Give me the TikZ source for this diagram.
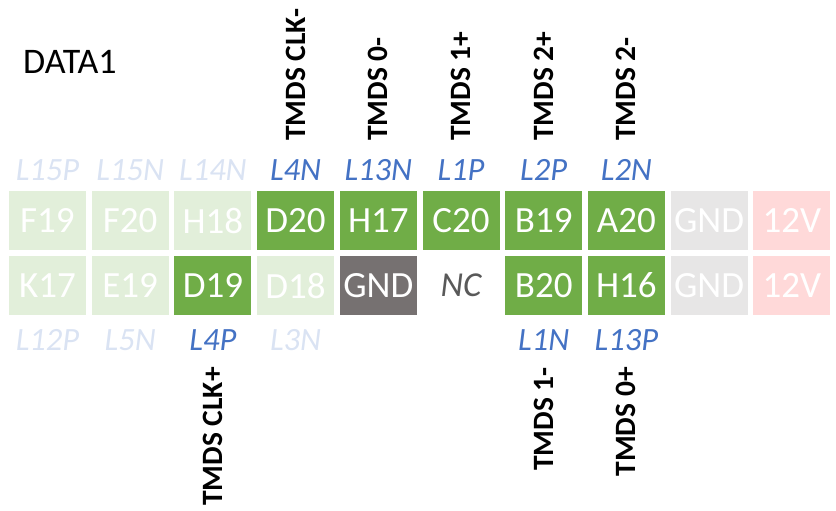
\documentclass[tikz,border=0pt]{standalone}
\usepackage{fontspec}
\setmainfont{Carlito}
\definecolor{pgreen}{HTML}{70AD47}
\definecolor{plight}{HTML}{E2EFDA}
\definecolor{pgray}{HTML}{E7E6E6}
\definecolor{pdark}{HTML}{767171}
\definecolor{ppink}{HTML}{FFD9D9}
\definecolor{lblue}{HTML}{4472C4}
\definecolor{lfade}{HTML}{DAE3F3}
\definecolor{nctext}{HTML}{595959}
\tikzset{
  pin/.style={minimum width=77pt, minimum height=59pt, inner sep=0pt, text=white, font=\fontsize{37}{37}\selectfont},
  lbl/.style={inner sep=0pt, font=\fontsize{32.5}{32.5}\selectfont\itshape},
  sig/.style={inner sep=0pt, rotate=90, font=\fontsize{29.5}{29.5}\selectfont\bfseries, text=black},
}
\begin{document}
\begin{tikzpicture}[x=1pt,y=-1pt]
\useasboundingbox (0,0) rectangle (836,511);
\node[inner sep=0pt, anchor=west, font=\fontsize{36}{36}\selectfont] (title) at (23,62) {DATA1};
% row 1
\def\ra{220.5}
\def\rb{285.5}
\node[pin, fill=plight] (p11) at (47.5,\ra) {F19};
\node[pin, fill=plight] (p12) at (130.2,\ra) {F20};
\node[pin, fill=plight] (p13) at (212.9,\ra) {H18};
\node[pin, fill=pgreen] (p14) at (295.6,\ra) {D20};
\node[pin, fill=pgreen] (p15) at (378.3,\ra) {H17};
\node[pin, fill=pgreen] (p16) at (461,\ra) {C20};
\node[pin, fill=pgreen] (p17) at (543.7,\ra) {B19};
\node[pin, fill=pgreen] (p18) at (626.4,\ra) {A20};
\node[pin, fill=pgray] (p19) at (709.1,\ra) {GND};
\node[pin, fill=ppink] (p110) at (791.8,\ra) {12V};
% row 2
\node[pin, fill=plight] (p21) at (47.5,\rb) {K17};
\node[pin, fill=plight] (p22) at (130.2,\rb) {E19};
\node[pin, fill=pgreen] (p23) at (212.9,\rb) {D19};
\node[pin, fill=plight] (p24) at (295.6,\rb) {D18};
\node[pin, fill=pdark] (p25) at (378.3,\rb) {GND};
\node[pin, text=nctext, font=\fontsize{35}{35}\selectfont\itshape] (p26) at (461,\rb) {NC};
\node[pin, fill=pgreen] (p27) at (543.7,\rb) {B20};
\node[pin, fill=pgreen] (p28) at (626.4,\rb) {H16};
\node[pin, fill=pgray] (p29) at (709.1,\rb) {GND};
\node[pin, fill=ppink] (p210) at (791.8,\rb) {12V};
% top L labels
\node[lbl, text=lfade] (t1) at (47.5,170) {L15P};
\node[lbl, text=lfade] (t2) at (130.2,170) {L15N};
\node[lbl, text=lfade] (t3) at (212.9,170) {L14N};
\node[lbl, text=lblue] (t4) at (295.6,170) {L4N};
\node[lbl, text=lblue] (t5) at (378.3,170) {L13N};
\node[lbl, text=lblue] (t6) at (461,170) {L1P};
\node[lbl, text=lblue] (t7) at (543.7,170) {L2P};
\node[lbl, text=lblue] (t8) at (626.4,170) {L2N};
% bottom L labels
\node[lbl, text=lfade] (b1) at (47.5,340) {L12P};
\node[lbl, text=lfade] (b2) at (130.2,340) {L5N};
\node[lbl, text=lblue] (b3) at (212.9,340) {L4P};
\node[lbl, text=lfade] (b4) at (295.6,340) {L3N};
\node[lbl, text=lblue] (b7) at (543.7,340) {L1N};
\node[lbl, text=lblue] (b8) at (626.4,340) {L13P};
% signal names top
\node[sig, anchor=west] (s1) at (295.6,141) {TMDS CLK-};
\node[sig, anchor=west] (s2) at (378.3,141) {TMDS 0-};
\node[sig, anchor=west] (s3) at (461,141) {TMDS 1+};
\node[sig, anchor=west] (s4) at (543.7,141) {TMDS 2+};
\node[sig, anchor=west] (s5) at (626.4,141) {TMDS 2-};
% signal names bottom
\node[sig, anchor=east] (s6) at (212.9,367) {TMDS CLK+};
\node[sig, anchor=east] (s7) at (543.7,367) {TMDS 1-};
\node[sig, anchor=east] (s8) at (626.4,367) {TMDS 0+};
\end{tikzpicture}
\end{document}
